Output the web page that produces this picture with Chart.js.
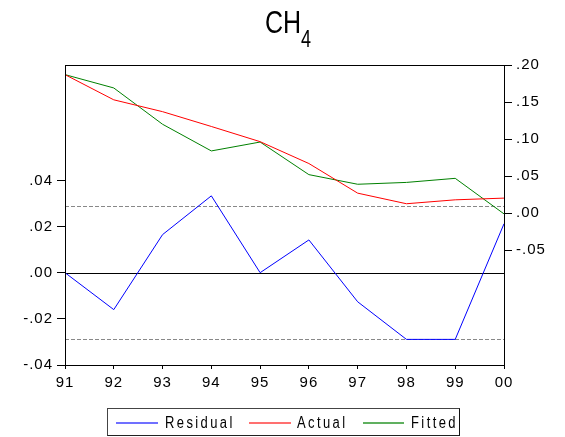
<!DOCTYPE html>
<html>
<head>
<meta charset="utf-8">
<script src="https://cdn.jsdelivr.net/npm/chart.js@4.4.1/dist/chart.umd.min.js"></script>
<style>
    body { margin: 0; background: #fff; }
    #wrap { position: relative; width: 565px; height: 437px; font-family: "Liberation Sans", Arial, sans-serif; }
    #title { position: absolute; left: 265px; top: 6px; font-size: 25px; line-height: 25px; transform: scaleY(1.28); transform-origin: top left; white-space: nowrap; }
    #title span { font-size: 18px; position: relative; top: 11px; }
    #legend { position: absolute; left: 107px; top: 408px; width: 351px; height: 26px; border: 1px solid #444; border-right-color: #111; border-bottom-color: #222; }
    .lg-line { position: absolute; height: 2px; top: 13px; }
    .lg-text { position: absolute; top: 5px; font-size: 13px; line-height: 13px; letter-spacing: 2.4px; transform: scaleY(1.28); transform-origin: top left; white-space: nowrap; }
</style>
</head>
<body>
<div id="wrap">
    <canvas id="chart" width="565" height="437"></canvas>
    <div id="title">CH<span>4</span></div>
    <div id="legend"></div>
</div>
<script>
const years = ['91', '92', '93', '94', '95', '96', '97', '98', '99', '00'];
const residual = [0.0, -0.016, 0.0165, 0.0333, 0.0, 0.0142, -0.0126, -0.0289, -0.0289, 0.0212];
const actual = [0.187, 0.153, 0.137, 0.117, 0.0965, 0.067, 0.027, 0.0127, 0.018, 0.0203];
const fitted = [0.187, 0.169, 0.120, 0.084, 0.096, 0.052, 0.039, 0.0415, 0.047, -0.001];
const leftTicks = [-0.04, -0.02, 0.00, 0.02, 0.04];
const rightTicks = [-0.05, 0.00, 0.05, 0.10, 0.15, 0.20];
const residualBands = [0.0287, -0.0287];

function fmt(v) {
    return v.toFixed(2).replace('0.', '.');
}

const frame = {
    id: 'frame',
    beforeDraw(chart) {
        chart.ctx.letterSpacing = '1px';
    },
    beforeDatasetsDraw(chart) {
        const { ctx, chartArea: a } = chart;
        const yL = chart.scales.yL;
        ctx.save();
        ctx.lineWidth = 1;
        ctx.strokeStyle = '#000';
        let y = Math.round(yL.getPixelForValue(0)) + 0.5;
        ctx.beginPath();
        ctx.moveTo(a.left, y);
        ctx.lineTo(a.right, y);
        ctx.stroke();
        ctx.strokeStyle = '#888';
        ctx.setLineDash([4, 2]);
        residualBands.forEach(v => {
            y = Math.round(yL.getPixelForValue(v)) + 0.5;
            ctx.beginPath();
            ctx.moveTo(a.left, y);
            ctx.lineTo(a.right, y);
            ctx.stroke();
        });
        ctx.restore();
    },
    afterDraw(chart) {
        const { ctx, chartArea: a } = chart;
        ctx.save();
        ctx.strokeStyle = '#000';
        ctx.lineWidth = 1;
        ctx.strokeRect(Math.round(a.left) + 0.5, Math.round(a.top) + 0.5,
            Math.round(a.right - a.left), Math.round(a.bottom - a.top));
        ctx.restore();
    }
};

const tickFont = { family: '"Liberation Sans", Arial, sans-serif', size: 15 };

const datasets = [
    { label: 'Residual', data: residual, borderColor: '#0000ff', yAxisID: 'yL' },
    { label: 'Actual', data: actual, borderColor: '#ff0000', yAxisID: 'yR' },
    { label: 'Fitted', data: fitted, borderColor: '#008000', yAxisID: 'yR' }
].map(d => Object.assign(d, { borderWidth: 1, pointRadius: 0, tension: 0, fill: false }));

new Chart(document.getElementById('chart'), {
    type: 'line',
    data: { labels: years, datasets: datasets },
    options: {
        responsive: false,
        devicePixelRatio: 1,
        animation: false,
        layout: { padding: { top: 65, bottom: 42, left: 0, right: 0 } },
        plugins: { legend: { display: false }, title: { display: false }, tooltip: { enabled: false } },
        scales: {
            x: {
                offset: false,
                border: { display: false },
                grid: { drawOnChartArea: false, tickLength: 4, color: '#000' },
                ticks: { font: tickFont, color: '#000', padding: 5, maxRotation: 0, autoSkip: false },
                afterFit: s => { s.height = 30; }
            },
            yL: {
                position: 'left',
                min: -0.04,
                max: 0.09,
                border: { display: false },
                grid: { drawOnChartArea: false, tickLength: 8, color: '#000' },
                ticks: { font: tickFont, color: '#000', padding: 4, callback: v => fmt(v) },
                afterBuildTicks: s => { s.ticks = leftTicks.map(v => ({ value: v })); },
                afterFit: s => { s.width = 65; }
            },
            yR: {
                position: 'right',
                min: -0.205,
                max: 0.20,
                border: { display: false },
                grid: { drawOnChartArea: false, tickLength: 8, color: '#000' },
                ticks: { font: tickFont, color: '#000', padding: 4, callback: v => fmt(v) },
                afterBuildTicks: s => { s.ticks = rightTicks.map(v => ({ value: v })); },
                afterFit: s => { s.width = 61; }
            }
        }
    },
    plugins: [frame]
});

// legend below the plot, built from the datasets
const legendColors = ['#7070ff', '#ff7070', '#60b060'];
const legendPos = [[8, 50, 57], [141, 183, 189], [255, 296, 303]];
const legend = document.getElementById('legend');
datasets.forEach((d, i) => {
    const [x0, x1, tx] = legendPos[i];
    const line = document.createElement('div');
    line.className = 'lg-line';
    line.style.left = x0 + 'px';
    line.style.width = (x1 - x0) + 'px';
    line.style.backgroundColor = legendColors[i];
    legend.appendChild(line);
    const txt = document.createElement('div');
    txt.className = 'lg-text';
    txt.style.left = tx + 'px';
    txt.textContent = d.label;
    legend.appendChild(txt);
});
</script>
</body>
</html>
